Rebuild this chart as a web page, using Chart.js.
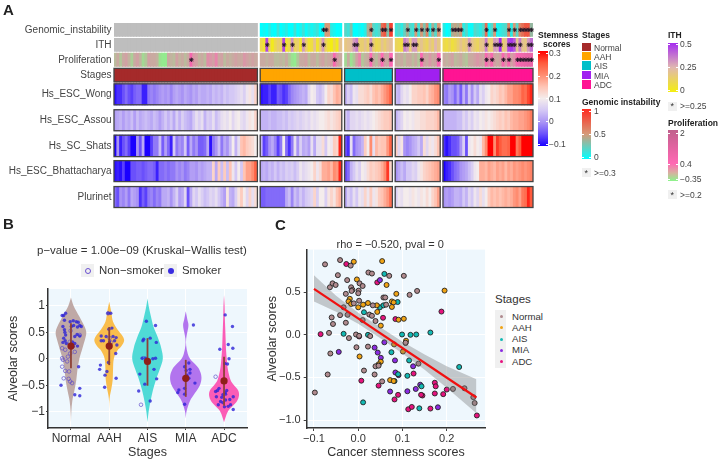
<!DOCTYPE html>
<html>
<head>
<meta charset="utf-8">
<script src="https://cdn.jsdelivr.net/npm/chart.js@4"></script>
<style>
html,body{margin:0;padding:0;background:#fff}
#page{position:relative;width:720px;height:464px;overflow:hidden;font-family:"Liberation Sans",Arial,sans-serif;color:#333}
canvas{position:absolute}
.t{position:absolute;white-space:nowrap;line-height:1;transform:translateY(-50%)}
.b{font-weight:bold;color:#222}
.box{position:absolute}
</style>
</head>
<body>
<div id="page">
  <canvas id="heat" style="position:absolute;left:0px;top:0px" width="720" height="220"></canvas>
  <canvas id="violin" style="position:absolute;left:0px;top:280px" width="260" height="184"></canvas>
  <canvas id="scatter" style="position:absolute;left:262px;top:240px" width="228" height="224"></canvas>
</div>
<script>
// ---------- panel A values, one list per stage ----------
const stages = ['Normal', 'AAH', 'AIS', 'MIA', 'ADC'];
const stageColors = ['#a52a2a', '#ffa500', '#00bfc9', '#a020f0', '#ff1493'];
const stageSizes = [51, 29, 17, 16, 32];

const genomicAAH = [0,.05,0,.1,.02,0,.15,0,.05,.1,0,0,.15,0,.05,.15,.02,.1,.05,.1,.15,0,.05,.5,.5,.1,.05,0,.02];
const genomicAIS = [.2,.15,.3,0,0,.05,.02,.1,.4,.5,.2,.15,.2,.7,.8,.3,.9];
const genomicMIA = [.15,.2,.1,.25,.4,.2,.15,.5,.15,.5,.3,.6,.1,.4,.2,.5];
const genomicADC = [.1,0,.05,.4,.45,.4,.5,.1,.2,.02,.02,.2,.15,.1,.2,.7,.03,.2,.5,.05,.1,.15,.2,.6,.1,.5,.2,.6,.7,.8,.8,.35];

const ithAAH = [.1,.05,.45,.1,.02,.1,.15,.12,.45,.05,.1,.32,.12,.15,.05,.3,.15,.05,.08,.2,.05,.15,.3,.12,.05,0,.1,.02,.2];
const ithAIS = [.18,.2,.22,.3,.35,.15,.15,.2,.14,.3,.15,.1,.12,.2,.15,.2,.22];
const ithMIA = [.12,.1,.08,.35,.3,.15,.3,.3,.15,.2,.15,.12,.2,.15,.25,.18];
const ithADC = [.1,.08,.12,.07,.1,.15,.2,.15,.18,.3,.2,.15,.12,.18,.2,.35,.15,.15,.3,.28,.5,.15,.2,.45,.48,.42,.2,.35,.2,.18,.3,.38];

const prolifNormal = [-.05,.05,-.1,.05,.1,0,-.15,.05,.1,0,-.2,-.1,.1,.05,.05,0,-.25,-.3,-.3,.05,0,-.05,.1,0,.05,-.05,.05,.7,.15,.1,0,.05,-.05,.2,.15,.1,.25,.05,.1,-.05,.05,0,.05,.1,.05,.05,.15,.1,.05,.1,.05];
const prolifAAH = [.05,.05,0,.05,.05,-.05,-.05,0,-.05,.05,-.1,-.25,-.3,-.1,.05,.05,.1,-.05,.05,.05,-.05,.05,.1,0,.05,.1,.6,.15,.05];
const prolifAIS = [-.2,.05,-.25,-.1,.1,.25,-.1,0,.05,.45,.05,-.05,.1,.45,.1,.05,.5];
const prolifMIA = [.05,0,.05,-.05,.05,.05,-.05,.05,-.1,.5,.1,.05,.15,.05,.1,.5];
const prolifADC = [.05,0,.05,.1,-.05,0,.05,-.05,-.1,.05,.05,.1,.15,.1,.05,.6,.2,.6,.1,.05,.1,.6,.15,.6,.1,.2,.6,.7,.8,.9,1,.9];

const wongNormal = [-.09,-.07,-.07,-.05,-.03,-.05,-.06,-.04,-.03,-.03,-.08,-.08,-.02,-.01,-.02,-.01,0,.01,0,.01,-.01,.01,.02,.01,0,.02,.01,0,.02,.01,.03,.02,.02,.03,.02,.04,.03,.04,.03,.05,.04,.05,.05,.06,.07,.08,.06,.09,.11,.08,.13];
const wongAAH = [-.09,-.08,-.08,-.06,-.08,-.08,-.04,-.05,-.07,-.06,-.03,-.01,0,.01,.02,.03,.02,.07,.1,.09,.05,.04,.06,.1,.13,.12,.15,.17,.16];
const wongAIS = [.03,.06,.04,.09,.08,.12,.12,.13,.14,.12,.15,.16,.15,.17,.19,.21,.24];
const wongMIA = [.04,.03,.07,.09,.08,.1,.13,.13,.14,.14,.15,.13,.16,.17,.19,.2];
const wongADC = [-.01,-.02,.01,0,-.03,.01,-.04,.03,-.02,.05,0,.05,.02,.08,.06,.09,.1,.13,.12,.13,.15,.14,.16,.18,.18,.2,.2,.21,.24,.23,.26,.28];

const assouNormal = [.01,.02,.03,.01,.03,.02,.04,.01,.04,.02,.03,.04,.03,.02,.04,.03,.01,.03,.05,.03,.05,.02,.06,.03,.06,.04,.03,.02,.05,.08,.06,.08,.03,.06,.05,.08,.04,.06,.08,.09,.08,.1,.07,.09,.1,.08,.07,.09,.11,.1,.13];
const assouAAH = [.03,.03,.03,.04,.03,.03,.04,.04,.05,.04,.06,.05,.06,.07,.06,.07,.08,.07,.09,.08,.09,.1,.1,.11,.12,.11,.12,.13,.14];
const assouAIS = [.05,.03,.07,.07,.08,.07,.08,.09,.08,.09,.1,.11,.12,.13,.14,.14,.15];
const assouMIA = [.03,.05,.07,.1,.09,.1,.09,.11,.11,.12,.12,.13,.13,.13,.14,.16];
const assouADC = [.03,.03,.03,.03,.03,.04,.04,.07,.05,.08,.06,.09,.08,.1,.09,.11,.1,.11,.12,.13,.14,.13,.15,.14,.16,.17,.17,.18,.18,.19,.2,.22];

const shatsNormal = [-.1,0,-.08,-.05,-.03,-.06,-.1,-.1,0,-.05,.02,-.1,-.1,-.06,-.02,-.02,.04,-.04,.01,-.03,-.08,.05,-.02,0,-.01,.05,-.04,.02,-.02,0,-.04,-.04,-.03,.02,-.09,-.02,0,.04,-.02,.02,0,.04,.1,.03,.08,.15,.16,.14,.13,.12,.1];
const shatsAAH = [.03,-.06,-.04,0,.02,-.01,-.06,-.02,.1,-.03,-.07,-.02,.08,0,.06,.02,.03,.01,.08,.02,.08,.08,.12,.05,.1,.09,.14,.13,.28];
const shatsAIS = [-.05,-.07,.08,-.03,0,.01,.03,.14,.1,.2,.08,.16,.14,.15,.15,.19,.24];
const shatsMIA = [.14,.07,.11,0,-.01,0,.02,.03,.05,.02,.12,.07,.11,.09,.12,.15];
const shatsADC = [-.07,-.09,-.07,-.05,-.05,-.04,0,.06,-.05,.09,.1,.12,.1,.09,.16,.2,.3,.3,.2,.27,.25,.23,.23,.24,.3,.3,.22,.25,.3,.3,.3,.3];

const bhattNormal = [-.09,-.08,-.09,-.06,-.1,-.1,-.05,-.05,-.04,-.04,-.05,-.04,-.03,-.03,-.04,-.08,-.03,-.03,-.02,-.03,-.02,-.02,0,-.01,0,-.02,-.01,.01,.01,0,.02,.01,.02,.03,.03,.13,.02,.14,.04,.14,.04,.15,.09,.05,.1,.05,.15,.18,.18,.2,.24];
const bhattAAH = [.02,.03,.02,.04,.03,.05,.03,.05,.04,.06,.05,.06,.04,.06,.09,.07,.08,.09,.1,.13,.09,.12,.17,.17,.18,.16,.2,.19,.28];
const bhattAIS = [-.05,-.03,.03,.05,.08,.06,.1,.09,.12,.14,.13,.14,.15,.17,.2,.27,.13];
const bhattMIA = [0,.02,.04,.02,.05,.05,.07,.06,.09,.11,.13,.14,.15,.16,.17,.18];
const bhattADC = [-.1,-.08,-.07,-.05,-.03,-.02,0,.01,.02,.04,.06,.09,.1,.17,.17,.16,.18,.17,.16,.18,.17,.18,.16,.18,.17,.19,.18,.19,.2,.19,.2,.21];

const plurNormal = [-.03,-.05,0,-.01,.01,-.02,.02,.01,0,-.07,-.04,-.06,-.02,-.01,-.03,-.01,-.02,.02,.02,.03,0,.03,.06,.01,.02,.07,-.05,.02,.07,.05,.08,.06,.04,.05,.07,.06,.08,.05,.03,.01,.11,.03,.02,.06,.11,.14,.1,.07,.13,.08,.12];
const plurAAH = [-.04,-.04,-.03,-.03,-.03,-.03,-.03,-.03,-.03,.02,.04,-.01,.04,.02,.05,.03,.05,.06,.07,.13,.06,.1,.1,.06,.11,.13,.11,.15,.17];
const plurAIS = [.02,.06,.04,.08,.05,.09,.08,.13,.09,.14,.09,.11,.14,.15,.17,.19,.23];
const plurMIA = [.06,.09,.08,.1,.1,.09,.11,.1,.09,.11,.1,.12,.1,.13,.15,.18];
const plurADC = [0,.01,0,.01,.03,.03,.02,.05,.03,.07,.05,.09,.07,.12,.08,.1,.14,.16,.15,.16,.15,.16,.17,.16,.17,.19,.2,.18,.22,.23,.28,.25];

// star positions, counted along the whole strip
const genomicStars = [74,75,91,95,96,98,104,107,109,111,113,115,120,121,122,123,132,135,140,142,144,145,146,147,148];
const ithStars = [54,60,63,67,74,85,86,91,103,104,106,107,126,132,135,136,137,140,141,142,144,147,148];
const prolifStars = [27,78,91,95,98,109,115,132,134,138,140,143,144,145,146,147,148];

// ---------- panel B values ----------
const violinLevels = [
  [1.16,1,.8,.6,.5,.4,.2,0,-.2,-.4,-.6,-.8,-1,-1.2],
  [1.08,.9,.7,.55,.45,.35,.25,.15,0,-.2,-.4,-.55,-.75,-.95],
  [1.14,1,.8,.6,.4,.2,0,-.2,-.4,-.6,-.8,-1,-1.2],
  [.9,.75,.64,.5,.38,.25,.1,0,-.1,-.2,-.35,-.5,-.65,-.8,-1,-1.13],
  [1.2,1,.8,.6,.4,.2,0,-.2,-.4,-.5,-.6,-.7,-.8,-.9,-1,-1.2]
];
const violinWidths = [
  [0,.07,.22,.36,.4,.38,.3,.22,.17,.14,.09,.035,.01,0],
  [0,.05,.1,.22,.33,.39,.33,.21,.12,.1,.09,.06,.01,0],
  [0,.03,.09,.16,.27,.36,.4,.32,.22,.14,.08,.03,0],
  [0,.04,.07,.04,.01,.01,.05,.11,.24,.35,.41,.37,.24,.11,.02,0],
  [0,.015,.02,.03,.04,.05,.07,.1,.17,.26,.37,.39,.34,.22,.1,0]
];
const violinColors = ['#bfa9a6', '#f9bd4c', '#4fdad6', '#b274ee', '#fb5cb6'];
const stageMeans = [.24, .24, -.05, -.37, -.42];
const barLow = [-.18, -.12, -.51, -.72, -.89];
const barHigh = [.67, .6, .39, -.02, .04];

const smokerX = [.81,.86,.77,.83,.98,1.06,1.14,1.19,1.27,1.17,1.23,1.07,.83,.79,.84,.86,.81,.85,.79,.88,1.1,1.23,1.16,1.04,1.1,1.17,1.06,1.01,1.2,.74,1.23,1.23,1.1,
  1.97,2.04,2.07,1.99,1.79,1.92,2.1,2.18,1.79,1.85,2.01,2.14,2.2,1.97,2.17,1.77,1.75,1.98,1.94,1.89,2.18,1.88,
  2.97,3.21,2.88,3.07,2.9,3.23,2.86,2.95,3.14,3.21,2.99,3.17,2.8,3.24,2.93,2.77,3.07,
  4.2,4.08,3.97,4.11,4.01,4.11,4.03,3.97,4.24,4.08,3.97,3.82,3.79,3.97,3.97,
  5.03,5.22,5.11,4.89,5.23,5.13,5.02,5.09,4.87,4.83,5.07,5.03,4.97,5.04,4.8,4.94,5.24,5.15,5.04,4.97,4.85,5.17,5.11,5.24,5.01,4.78,4.91];
const smokerY = [.82,.86,.82,.73,.7,.72,.7,.69,.61,.6,.63,.63,.55,.61,.5,.45,.39,.34,.31,.29,.42,.43,.46,.32,.29,.24,.23,.61,-.15,-.5,-.56,-.7,-.68,
  .86,.86,.58,.56,.43,.42,.42,.4,.34,.34,.32,.34,.26,.24,.1,-.12,-.2,-.07,-.24,-.31,-.37,-.54,
  .71,.63,.34,.39,.37,.31,.01,.01,0,.01,-.08,-.2,-.29,-.38,-.48,-.61,-.8,
  .64,-.08,-.15,-.2,-.22,-.27,-.31,-.36,-.46,-.37,-.56,-.59,-.64,-.67,-.86,
  .83,.61,.27,.18,.2,0,-.09,-.1,-.56,-.6,-.6,-.64,-.68,-.67,-.72,-.73,-.72,-.77,-.78,-.83,-.87,-.87,-.9,-.96,-.91,-.62,-.81];
const nonSmokerX = [.77,.85,.92,.79,.77,.85,.95,.81,.94,.98,1.03,.97,1.23,.99,1.1,.98,.9,.77,2.01,2.05,1.97,2.9,2.83,4.78];
const nonSmokerY = [.2,.17,.04,-.02,-.15,-.23,-.24,-.37,-.38,-.43,-.46,.32,.45,.53,.13,.1,-.05,.01,.39,.31,.86,.01,-.87,-.34];
const violinTicks = ['Normal', 'AAH', 'AIS', 'MIA', 'ADC'];

// ---------- panel C values ----------
const normalX = [-.098,-.075,-.041,-.017,-.046,-.058,-.051,-.064,-.025,-.016,-.013,-.015,.001,0,.003,.01,-.028,.023,.031,.07,.103,.116,.133,.057,.061,.002,-.01,-.033,-.041,-.024,-.06,-.057,-.028,-.066,-.021,-.005,.002,.027,.025,.031,.01,.039,-.004,-.063,.022,-.069,.013,.037,.039,.046,.054,.136,.107,.033,.063,.214,.24,.26,.263];
const normalY = [-.677,.827,.877,.812,.7,.604,.585,.558,.642,.558,.527,.515,.519,.488,.604,.573,.481,.731,.719,.692,.692,.469,.515,.438,.438,.4,.369,.323,.231,.235,.204,.127,.142,.023,-.038,.004,-.012,-.015,.238,.223,.173,.162,-.146,-.219,-.138,-.465,-.419,-.465,-.369,-.362,-.546,-.338,-.092,.346,.354,-.635,-.627,-.731,-.8];
const aahX = [-.01,.054,-.003,.064,.086,-.019,-.022,-.016,0,.011,.022,.042,.043,.076,.08,.076,.195,.091,.103,.051,.081,.108,.101,.003,.051,.046,.072,.08];
const aahY = [.858,.865,.65,.585,.481,.423,.392,.362,.323,.354,.373,.346,.269,.392,.381,.327,.519,.177,.188,.108,-.112,-.069,-.196,-.254,-.315,-.346,-.531,-.542];
const aisX = [.059,.089,.049,.057,.013,-.033,.022,.099,.118,.131,.163,.075,.115,.228,.111,.09,.082,.011,.138,.143];
const aisY = [.715,.385,.323,.346,.265,.012,0,.004,0,.004,.027,-.204,-.3,-.377,-.481,-.462,-.542,-.792,-.862,-.604];
const miaX = [.049,-.044,.037,.044,.051,.083,.124,.084,.091,.072,.111,.13,.14,.18,.059];
const miaY = [.642,-.2,-.15,-.208,-.269,-.3,-.369,-.442,-.473,-.665,-.662,-.635,-.585,-.85,-.088];
const adcX = [-.027,.043,.056,.084,.188,-.085,.002,.107,.007,.046,.09,.082,.113,.121,.163,.145,.142,.173,.192,.2,.173,.175,.125,.268];
const adcY = [.831,.615,.2,.185,.273,.008,-.019,-.096,-.538,-.596,-.704,-.758,-.873,-.846,-.865,-.712,-.704,-.688,-.696,-.642,-.562,-.604,-.454,-.946];
const fitX = [-.1, .267];
const fitY = [.54, -.735];
const bandX = [-.1,-.05,0,.05,.1,.15,.2,.267];
const bandHigh = [.7,.46,.26,.09,-.08,-.23,-.37,-.52];
const bandLow = [.39,.27,.13,-.04,-.22,-.41,-.62,-.92];
const scatterColors = ['#b08a8e', '#f0a314', '#12b9b4', '#8a2be2', '#e6127e'];

// ---------- colour scales ----------
function hex(c){ return [parseInt(c.substr(1,2),16), parseInt(c.substr(3,2),16), parseInt(c.substr(5,2),16)]; }
function scaleColor(stops, v){
    if(v <= stops[0][0]) return stops[0][1];
    for(let i = 1; i < stops.length; i++){
        if(v <= stops[i][0]){
            let t = (v - stops[i-1][0]) / (stops[i][0] - stops[i-1][0]);
            let a = hex(stops[i-1][1]), b = hex(stops[i][1]);
            return `rgb(${a.map((x,j) => Math.round(x + (b[j]-x)*t)).join(',')})`;
        }
    }
    return stops[stops.length-1][1];
}
const stemStops = [[-.1,'#1a00ff'],[-.05,'#6a50fb'],[0,'#a994f5'],[.05,'#d4c8f5'],[.1,'#f4ecec'],[.15,'#ffc4b4'],[.2,'#ff8c70'],[.25,'#ff5a3c'],[.3,'#ff0000']];
const genomicStops = [[0,'#00ffff'],[.5,'#d69a78'],[1,'#ff2a20']];
const ithStops = [[0,'#f4ee10'],[.25,'#e0b8b0'],[.5,'#a52cf0']];
const prolifStops = [[-.35,'#8cf48c'],[.4,'#ff69b4'],[2,'#c0608c']];

// ---------- strips ----------
const naColor = '#bebebe';
const slotLabels = [];
stageSizes.forEach((n, s) => {
    for(let i = 0; i < n; i++) slotLabels.push(stages[s] + i);
    if(s < stageSizes.length - 1) slotLabels.push('gap' + s);
});
function strip(lists){
    let out = [];
    lists.forEach((list, s) => {
        out = out.concat(list);
        if(s < lists.length - 1) out.push(undefined);
    });
    return out;
}
const naNormal = new Array(stageSizes[0]).fill(null);
const stageStrip = strip(stageSizes.map((n, s) => new Array(n).fill(s)));
const trackNames = ['Genomic_instability','ITH','Proliferation','Stages','Hs_ESC_Wong','Hs_ESC_Assou','Hs_SC_Shats','Hs_ESC_Bhattacharya','Plurinet'];
// strip tops and bottoms on the panel's own vertical scale
const trackEdges = [[23.4,36.4],[38.4,51.4],[53.4,66.4],[68.5,82],[84,105],[110,131],[135.5,157],[161,182],[187,208]];
const tracks = [
    {values: strip([naNormal, genomicAAH, genomicAIS, genomicMIA, genomicADC]), color: v => scaleColor(genomicStops, v), stars: genomicStars},
    {values: strip([naNormal, ithAAH, ithAIS, ithMIA, ithADC]), color: v => scaleColor(ithStops, v), stars: ithStars},
    {values: strip([prolifNormal, prolifAAH, prolifAIS, prolifMIA, prolifADC]), color: v => scaleColor(prolifStops, v), stars: prolifStars},
    {values: stageStrip, color: v => stageColors[v]},
    {values: strip([wongNormal, wongAAH, wongAIS, wongMIA, wongADC]), color: v => scaleColor(stemStops, v)},
    {values: strip([assouNormal, assouAAH, assouAIS, assouMIA, assouADC]), color: v => scaleColor(stemStops, v)},
    {values: strip([shatsNormal, shatsAAH, shatsAIS, shatsMIA, shatsADC]), color: v => scaleColor(stemStops, v)},
    {values: strip([bhattNormal, bhattAAH, bhattAIS, bhattMIA, bhattADC]), color: v => scaleColor(stemStops, v)},
    {values: strip([plurNormal, plurAAH, plurAIS, plurMIA, plurADC]), color: v => scaleColor(stemStops, v)}
];

const heatDatasets = [];
tracks.forEach((tr, r) => {
    heatDatasets.push({
        type: 'bar',
        grouped: false,
        order: 2,
        barPercentage: 1,
        categoryPercentage: 1,
        inflateAmount: .45,
        data: tr.values.map(v => v === undefined ? null : trackEdges[r]),
        backgroundColor: tr.values.map(v => v === null || v === undefined ? naColor : tr.color(v)),
        borderWidth: 0
    });
    if(tr.stars){
        heatDatasets.push({
            type: 'line',
            order: 1,
            showLine: false,
            data: slotLabels.map((l, i) => tr.stars.includes(i) ? (trackEdges[r][0] + trackEdges[r][1]) / 2 : null),
            pointStyle: 'star',
            pointRadius: 2.2,
            pointBorderWidth: 1,
            pointBorderColor: '#2a1a2a',
            pointBackgroundColor: '#2a1a2a'
        });
    }
});

// dark frames round the stage bar and the score strips
const stripFrames = {
    id: 'stripFrames',
    afterDatasetsDraw(chart){
        const ctx = chart.ctx, xs = chart.scales.x, ys = chart.scales.y;
        const half = xs.width / slotLabels.length / 2;
        ctx.save();
        ctx.strokeStyle = '#444';
        ctx.lineWidth = 1.3;
        let start = 0;
        stageSizes.forEach(n => {
            const x0 = xs.getPixelForValue(start) - half;
            const x1 = xs.getPixelForValue(start + n - 1) + half;
            trackEdges.slice(3).forEach(e => {
                const y0 = ys.getPixelForValue(e[0]), y1 = ys.getPixelForValue(e[1]);
                ctx.strokeRect(x0, y0, x1 - x0, y1 - y0);
            });
            start += n + 1;
        });
        ctx.restore();
    }
};

new Chart(document.getElementById('heat'), {
    data: {labels: slotLabels, datasets: heatDatasets},
    plugins: [stripFrames],
    options: {
        responsive: false,
        animation: false,
        events: [],
        layout: {padding: {left: 0, right: 187, top: 20, bottom: 8}},
        plugins: {legend: {display: false}, tooltip: {enabled: false}},
        scales: {
            x: {display: false, offset: true},
            y: {
                reverse: true, min: 20, max: 212,
                afterFit: s => { s.width = 114; },
                afterBuildTicks: s => { s.ticks = trackEdges.map(e => ({value: (e[0] + e[1]) / 2})); },
                grid: {display: false, drawTicks: false},
                border: {display: false},
                ticks: {
                    autoSkip: false,
                    padding: 2.5,
                    color: '#444',
                    font: {family: 'Liberation Sans', size: 10},
                    callback: (v, i) => trackNames[i]
                }
            }
        }
    }
});

// paint the panel's pale ground under the marks
const plotGround = {
    id: 'plotGround',
    beforeDraw(chart){
        const a = chart.chartArea;
        chart.ctx.fillStyle = '#eef7fd';
        chart.ctx.fillRect(a.left, a.top, a.right - a.left, a.bottom - a.top);
    }
};

// ---------- violins ----------
function violinOutline(s){
    const up = violinLevels[s].map((y, i) => ({x: s + 1 + violinWidths[s][i], y: y}));
    const down = violinLevels[s].map((y, i) => ({x: s + 1 - violinWidths[s][i], y: y})).reverse();
    return up.concat(down);
}
const violinSets = stages.map((st, s) => ({
    type: 'scatter',
    showLine: true,
    order: 6,
    tension: .35,
    data: violinOutline(s),
    borderWidth: 0,
    borderColor: violinColors[s],
    backgroundColor: violinColors[s],
    fill: 'shape',
    pointRadius: 0
}));
const barSets = stages.map((st, s) => ({
    type: 'scatter',
    showLine: true,
    order: 3,
    data: [{x: s + 1, y: barLow[s]}, {x: s + 1, y: barHigh[s]}],
    borderColor: '#8f4136',
    borderWidth: 1.8,
    pointRadius: 0
}));

new Chart(document.getElementById('violin'), {
    data: {datasets: violinSets.concat(barSets, [
        {type: 'scatter', order: 4, data: smokerX.map((x, i) => ({x: x, y: smokerY[i]})), pointRadius: 1.7, pointBorderWidth: 0, pointBackgroundColor: 'rgba(45,35,215,.8)'},
        {type: 'scatter', order: 5, data: nonSmokerX.map((x, i) => ({x: x, y: nonSmokerY[i]})), pointRadius: 1.8, pointBorderWidth: .8, pointBorderColor: 'rgba(90,70,200,.8)', pointBackgroundColor: 'rgba(0,0,0,0)'},
        {type: 'scatter', order: 2, data: stageMeans.map((y, i) => ({x: i + 1, y: y})), pointRadius: 3.6, pointBorderWidth: 0, pointBackgroundColor: '#8f1f1a'}
    ])},
    plugins: [plotGround],
    options: {
        responsive: false,
        animation: false,
        events: [],
        layout: {padding: {left: 0, right: 13, top: 9, bottom: 0}},
        plugins: {legend: {display: false}, tooltip: {enabled: false}, filler: {drawTime: 'beforeDatasetDraw'}},
        scales: {
            x: {
                type: 'linear', min: .4, max: 5.6,
                afterFit: s => { s.height = 36; },
                afterBuildTicks: s => { s.ticks = violinTicks.map((t, i) => ({value: i + 1})); },
                grid: {color: '#fff', lineWidth: 1, tickColor: '#444', tickLength: 2},
                border: {color: '#333', width: 1.5},
                title: {display: true, text: 'Stages', color: '#333', padding: {top: 0, bottom: 4}, font: {family: 'Liberation Sans', size: 12.5}},
                ticks: {
                    autoSkip: false, maxRotation: 0, padding: 1, color: '#333',
                    font: {family: 'Liberation Sans', size: 12},
                    callback: (v, i) => violinTicks[i]
                }
            },
            y: {
                min: -1.31, max: 1.32,
                afterFit: s => { s.width = 48; },
                afterBuildTicks: s => { s.ticks = [-1, -.5, 0, .5, 1].map(v => ({value: v})); },
                grid: {color: '#fff', lineWidth: 1, tickColor: '#444', tickLength: 2},
                border: {color: '#333', width: 1.5},
                title: {display: true, text: 'Alveolar scores', color: '#333', padding: {top: 6, bottom: 0}, font: {family: 'Liberation Sans', size: 12.5}},
                ticks: {
                    padding: 1, color: '#333',
                    font: {family: 'Liberation Sans', size: 12},
                    callback: v => String(v).replace('-', '\u2212')
                }
            }
        }
    }
});

// ---------- scatter ----------
const scatterGroups = [[normalX,normalY],[aahX,aahY],[aisX,aisY],[miaX,miaY],[adcX,adcY]];
const scatterSets = scatterGroups.map((g, s) => ({
    type: 'scatter',
    order: 5,
    data: g[0].map((x, i) => ({x: x, y: g[1][i]})),
    pointRadius: 2.5,
    pointBorderWidth: .9,
    pointBorderColor: '#222',
    pointBackgroundColor: scatterColors[s]
}));

new Chart(document.getElementById('scatter'), {
    data: {datasets: scatterSets.concat([
        {type: 'scatter', showLine: true, order: 3, data: bandX.map((x, i) => ({x: x, y: bandHigh[i]})), borderWidth: 0, pointRadius: 0, fill: '+1', backgroundColor: 'rgba(120,120,120,.38)'},
        {type: 'scatter', showLine: true, order: 3, data: bandX.map((x, i) => ({x: x, y: bandLow[i]})), borderWidth: 0, pointRadius: 0},
        {type: 'scatter', showLine: true, order: 1, data: fitX.map((x, i) => ({x: x, y: fitY[i]})), borderColor: '#f01010', borderWidth: 2.2, pointRadius: 0}
    ])},
    plugins: [plotGround],
    options: {
        responsive: false,
        animation: false,
        events: [],
        layout: {padding: {left: 0, right: 3, top: 8, bottom: 0}},
        plugins: {legend: {display: false}, tooltip: {enabled: false}, filler: {drawTime: 'beforeDatasetDraw'}},
        scales: {
            x: {
                type: 'linear', min: -.1164, max: .2866,
                afterFit: s => { s.height = 36; },
                afterBuildTicks: s => { s.ticks = [-.1, 0, .1, .2].map(v => ({value: v})); },
                grid: {color: '#fff', lineWidth: 1, tickColor: '#444', tickLength: 3},
                border: {color: '#333', width: 1.5},
                title: {display: true, text: 'Cancer stemness scores', color: '#333', padding: {top: 0, bottom: 4}, font: {family: 'Liberation Sans', size: 12.5}},
                ticks: {
                    padding: 1, color: '#333', maxRotation: 0,
                    font: {family: 'Liberation Sans', size: 11},
                    callback: v => v.toFixed(1).replace('-', '\u2212')
                }
            },
            y: {
                min: -1.093, max: 1,
                afterFit: s => { s.width = 44.7; },
                afterBuildTicks: s => { s.ticks = [-1, -.5, 0, .5].map(v => ({value: v})); },
                grid: {color: '#fff', lineWidth: 1, tickColor: '#444', tickLength: 3},
                border: {color: '#333', width: 1.5},
                title: {display: true, text: 'Alveolar scores', color: '#333', padding: {top: 3, bottom: 0}, font: {family: 'Liberation Sans', size: 12.5}},
                ticks: {
                    padding: 3, color: '#333',
                    font: {family: 'Liberation Sans', size: 11},
                    callback: v => v.toFixed(1).replace('-', '\u2212')
                }
            }
        }
    }
});

// ---------- text and keys round the charts ----------
const page = document.getElementById('page');
function label(text, x, y, size, bold, extra){
    const d = document.createElement('div');
    d.className = 't' + (bold ? ' b' : '');
    d.textContent = text;
    d.style.cssText = `left:${x}px;top:${y}px;font-size:${size}px;` + (extra || '');
    page.appendChild(d);
}
function box(x, y, w, h, bg, extra){
    const d = document.createElement('div');
    d.className = 'box';
    d.style.cssText = `left:${x}px;top:${y}px;width:${w}px;height:${h}px;background:${bg};` + (extra || '');
    page.appendChild(d);
}
function gradient(stops, lo, hi){
    const parts = stops.slice().reverse().map(s => `${s[1]} ${((hi - s[0]) / (hi - lo) * 100).toFixed(1)}%`);
    return `linear-gradient(to bottom,${parts.join(',')})`;
}
function colorBar(x, y, w, h, bg, tickYs){
    box(x, y, w, h, bg);
    tickYs.forEach(t => {
        box(x, t, 2, 1, '#fff');
        box(x + w - 2, t, 2, 1, '#fff');
    });
}

label('A', 3, 9, 15, true);
label('B', 3, 223, 15, true);
label('C', 275, 224, 15, true);

label('Stemness', 538, 35, 8.5, true);
label('scores', 543, 44, 8.5, true);
colorBar(538, 51, 9.5, 95, gradient(stemStops, -.1, .3), [53, 76, 98, 121, 144]);
[['0.3',53],['0.2',76],['0.1',98.5],['0',121],['\u22120.1',144]].forEach(t => label(t[0], 549, t[1], 8.5, false, 'color:#444'));

label('Stages', 582, 35, 8.5, true);
stages.forEach((s, i) => {
    box(582, 42.5 + i * 9.4, 9, 8.6, stageColors[i]);
    label(s, 594, 47.5 + i * 9.4, 8.5, false, 'color:#444');
});

label('Genomic instability', 582, 102, 8.5, true);
colorBar(582, 109, 8.5, 50, gradient(genomicStops, 0, 1), [111, 134, 157]);
[['1',111],['0.5',134],['0',157]].forEach(t => label(t[0], 594, t[1], 8.5, false, 'color:#444'));
box(582, 168, 9, 9, '#f0f0f0');
label('*', 584.5, 173, 9, false, 'color:#333');
label('>=0.3', 594, 173, 8.5, false, 'color:#444');

label('ITH', 668, 35, 8.5, true);
colorBar(668, 43, 10, 49, gradient(ithStops, 0, .5), [44, 67, 90]);
[['0.5',44],['0.25',67],['0',90]].forEach(t => label(t[0], 680, t[1], 8.5, false, 'color:#444'));
box(668, 102, 9, 9, '#f0f0f0');
label('*', 670.5, 106, 9, false, 'color:#333');
label('>=0.25', 680, 106, 8.5, false, 'color:#444');

label('Proliferation', 668, 123, 8.5, true);
colorBar(668, 130, 10, 51, 'linear-gradient(to bottom,#c0608c 0%,#e864a4 40%,#ff69b4 66%,#d8b0a0 84%,#8cf48c 100%)', [133, 164, 179]);
[['2',133],['0.4',164],['\u22120.35',179]].forEach(t => label(t[0], 680, t[1], 8.5, false, 'color:#444'));
box(668, 190, 9, 9, '#f0f0f0');
label('*', 670.5, 195, 9, false, 'color:#333');
label('>=0.2', 680, 195, 8.5, false, 'color:#444');

label('p\u2212value = 1.00e\u221209 (Kruskal\u2212Wallis test)', 37, 251, 11.5);
box(81, 264, 13, 13, '#f0f0f0');
box(85, 267.5, 4, 4, 'transparent', 'border:1px solid #6a50d0;border-radius:50%;');
label('Non\u2212smoker', 99, 270.5, 11.4);
box(164, 264, 13, 13, '#f0f0f0');
box(168, 267.5, 6, 6, '#3a2ce0', 'border-radius:50%;');
label('Smoker', 182, 270.5, 11.4);

label('rho = \u22120.520, pval = 0', 336.5, 243.5, 11);
label('Stages', 495, 300, 11.5);
box(495, 310, 11, 58, '#f0f0f0');
stages.forEach((s, i) => {
    box(499.5, 315 + i * 11.3, 3, 3, scatterColors[i], 'border-radius:50%;');
    label(s, 512, 316.5 + i * 11.3, 9.6);
});
</script>
</body>
</html>
